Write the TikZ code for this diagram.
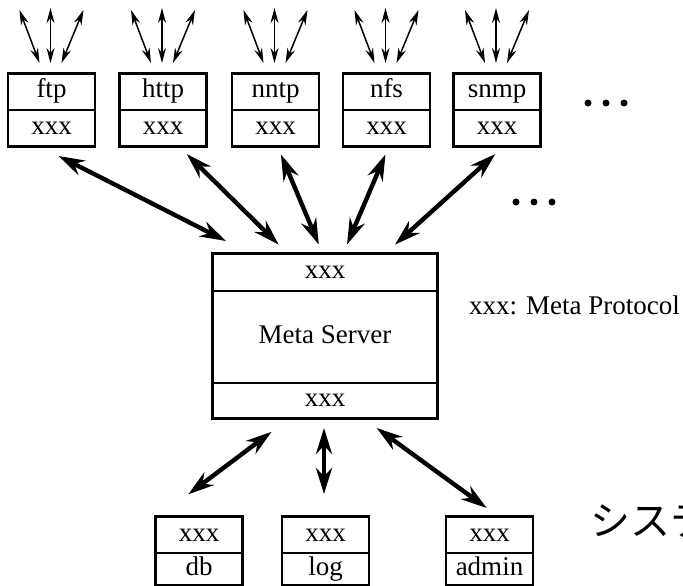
\documentclass[tikz,border=0pt]{standalone}
\usepackage{fontspec}
\setmainfont{Liberation Serif}
\newfontfamily\jpfont{Noto Sans CJK JP}
\usetikzlibrary{arrows.meta}
\begin{document}
\begin{tikzpicture}[x=1pt,y=-1pt,
  cell/.style={draw,line width=1.1pt,inner sep=0pt,minimum width=#1,text height=12pt,text depth=0pt,font=\fontsize{27}{30}\selectfont},
  cell/.default=86pt,
  frame/.style={draw,line width=2.6pt},
  fan/.style={line width=1.5pt,{Stealth[length=15pt,width=8pt]}-{Stealth[length=15pt,width=8pt]}},
  big/.style={line width=4.4pt,{Stealth[length=26pt,width=16pt]}-{Stealth[length=26pt,width=16pt]}},
  dot/.style={circle,fill,inner sep=0pt,minimum size=7pt}]
\useasboundingbox[fill=white] (0,0) rectangle (683,586);
% top boxes
\foreach \n/\t/\c in {ftp/ftp/51.5, http/http/163, nntp/nntp/275.5, nfs/nfs/386.5, snmp/snmp/497}{
  \node[cell,minimum height=36pt] (\n1) at (\c,92) {\t};
  \node[cell,minimum height=36pt] (\n2) at (\c,128) {xxx};
  \draw[frame] (\n1.north west) rectangle (\n2.south east);
  \coordinate (\n la) at (\c-12,63); \coordinate (\n lb) at (\c-32,10);
  \coordinate (\n ma) at (\c-1,63);  \coordinate (\n mb) at (\c-1,8);
  \coordinate (\n ra) at (\c+10,63); \coordinate (\n rb) at (\c+32,10);
  \draw[fan] (\n la) -- (\n lb);
  \draw[fan] (\n ma) -- (\n mb);
  \draw[fan] (\n ra) -- (\n rb);
}
% meta server
\node[cell=224pt,minimum height=37pt] (ms1) at (325,272.5) {xxx};
\node[cell=224pt,minimum height=92pt] (ms2) at (325,337) {Meta Server};
\node[cell=224pt,minimum height=35pt] (ms3) at (325,400.5) {xxx};
\draw[frame] (ms1.north west) rectangle (ms3.south east);
% bottom boxes
\foreach \n/\t/\c in {db/db/199, log/log/325.5, admin/admin/489.5}{
  \node[cell,minimum height=36pt] (\n1) at (\c,535) {xxx};
  \node[cell,minimum height=32pt] (\n2) at (\c,569) {\t};
  \draw[frame] (\n1.north west) rectangle (\n2.south east);
}
% middle connectors
\coordinate (a1) at (58.6,156);  \coordinate (b1) at (226,241);
\coordinate (a2) at (186.7,154); \coordinate (b2) at (278.7,244.6);
\coordinate (a3) at (280.9,154.4); \coordinate (b3) at (318.8,244.6);
\coordinate (a4) at (385.5,154.4); \coordinate (b4) at (347,244.6);
\coordinate (a5) at (495.4,154); \coordinate (b5) at (395,244.6);
\foreach \i in {1,...,5}{\draw[big] (a\i) -- (b\i);}
\coordinate (c1) at (271.7,431.7); \coordinate (d1) at (188.3,494.3);
\coordinate (c2) at (324,428);     \coordinate (d2) at (324,494);
\coordinate (c3) at (376.7,428);   \coordinate (d3) at (486.7,508);
\foreach \i in {1,2,3}{\draw[big] (c\i) -- (d\i);}
% dots
\node[dot] (p1) at (588,103) {}; \node[dot] (p2) at (606,103) {}; \node[dot] (p3) at (624,103) {};
\node[dot] (q1) at (516,202) {}; \node[dot] (q2) at (534,202) {}; \node[dot] (q3) at (552,202) {};
% legend
\node[anchor=west,inner sep=0pt,font=\fontsize{27}{30}\selectfont] (legend) at (469,305) {xxx: Meta Protocol};
\node[anchor=west,inner sep=0pt,font=\jpfont\fontsize{40}{44}\selectfont] (jp) at (590,521) {システ};
\end{tikzpicture}
\end{document}
